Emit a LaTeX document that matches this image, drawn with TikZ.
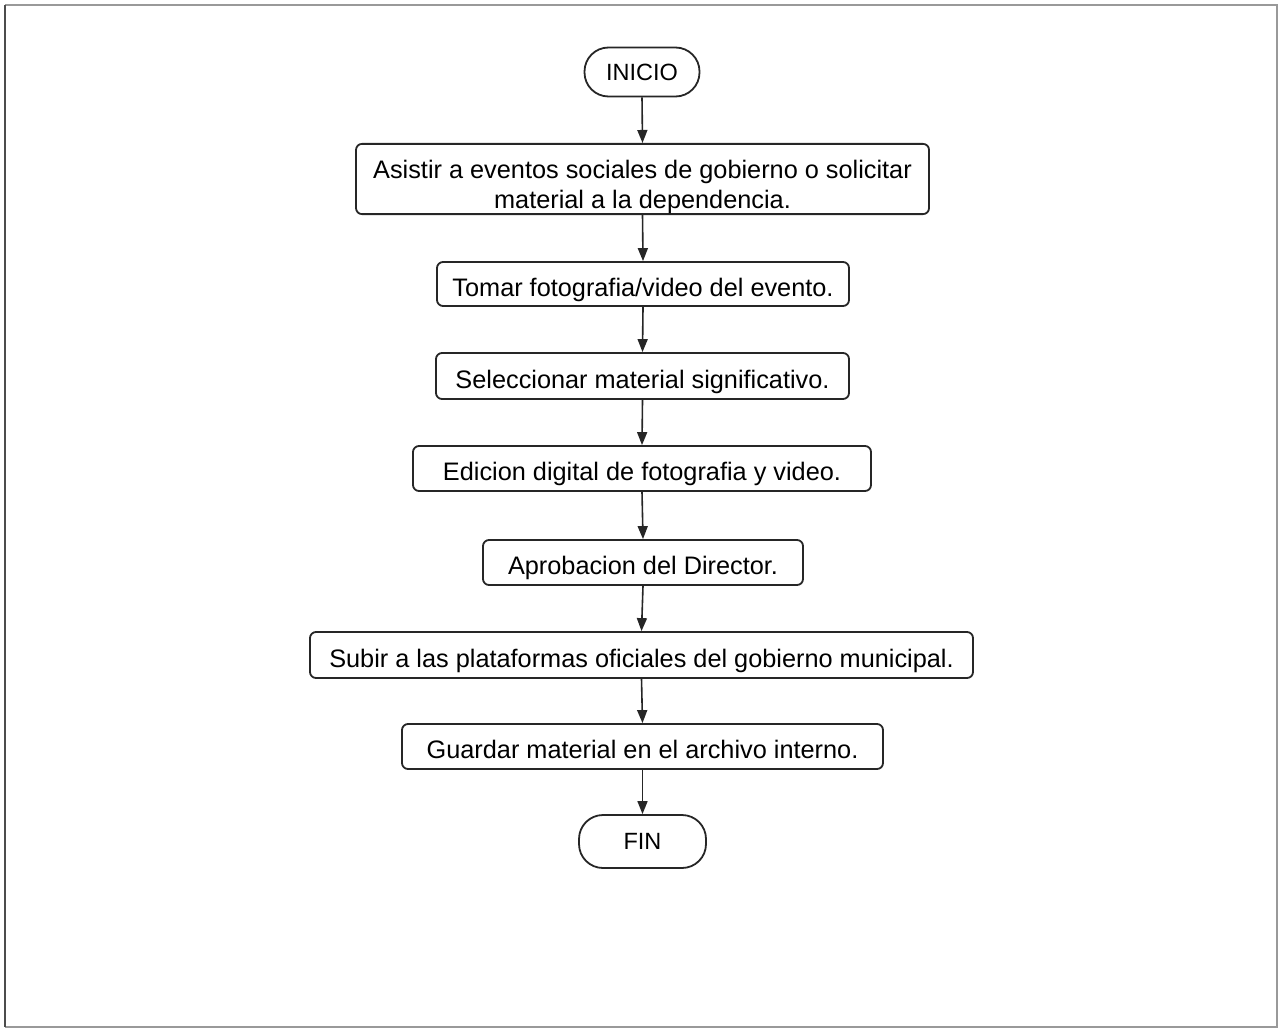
\documentclass[tikz,border=0pt]{standalone}
\usepackage{fontspec}
\setmainfont{Liberation Sans}
\usetikzlibrary{arrows.meta}
\begin{document}
\begin{tikzpicture}[x=1pt,y=-1pt,
  basebox/.style={draw=black!85, line width=1.8pt, rounded corners=6pt, fill=white,
    font=\fontsize{25.3}{30}\selectfont, align=center, inner sep=0pt},
  stepbox/.style={basebox, text height=24.2pt, text depth=0pt},
  terminal/.style={draw=black!85, line width=1.8pt, rounded corners=24pt, fill=white,
    font=\fontsize{23.5}{28}\selectfont, inner sep=0pt},
  flow/.style={draw=black!85, line width=1.6pt, -{Triangle[length=13pt,width=10pt]}}]
\useasboundingbox (0,0) rectangle (1281,1030);
% page frame
\draw[black!40, line width=1.4pt] (5,5) -- (1277,5) -- (1277,1027) -- (5,1027);
\draw[black!70, line width=1.4pt] (5,5) -- (5,1027);
% nodes
\node[terminal, minimum width=115pt, minimum height=49pt] (ini) at (642,72) {INICIO};
\node[basebox, minimum width=573pt, minimum height=70pt] (s1) at (642.5,179)
  {\rule{0pt}{35pt}Asistir a eventos sociales de gobierno o solicitar\\material a la dependencia.};
\node[stepbox, minimum width=412pt, minimum height=44pt] (s2) at (643,284) {Tomar fotografia/video del evento.};
\node[stepbox, minimum width=413pt, minimum height=46pt] (s3) at (642.5,376) {Seleccionar material significativo.};
\node[stepbox, minimum width=458pt, minimum height=45pt] (s4) at (642,468.5) {Edicion digital de fotografia y video.};
\node[stepbox, minimum width=320pt, minimum height=45pt] (s5) at (643,562.5) {Aprobacion del Director.};
\node[stepbox, minimum width=663pt, minimum height=46pt] (s6) at (641.5,655) {Subir a las plataformas oficiales del gobierno municipal.};
\node[stepbox, minimum width=481pt, minimum height=45pt] (s7) at (642.5,746.5) {Guardar material en el archivo interno.};
\node[terminal, minimum width=127pt, minimum height=53pt] (fin) at (642.5,841.5) {FIN};
% connectors
\draw[flow] (ini.south) -- (s1.north);
\draw[flow] (s1.south) -- (s2.north);
\draw[flow] (s2.south) -- (s3.north);
\draw[flow] (s3.south) -- (s4.north);
\draw[flow] (s4.south) -- (s5.north);
\draw[flow] (s5.south) -- (s6.north);
\draw[flow] (s6.south) -- (s7.north);
\draw[flow] (s7.south) -- (fin.north);
\end{tikzpicture}
\end{document}
